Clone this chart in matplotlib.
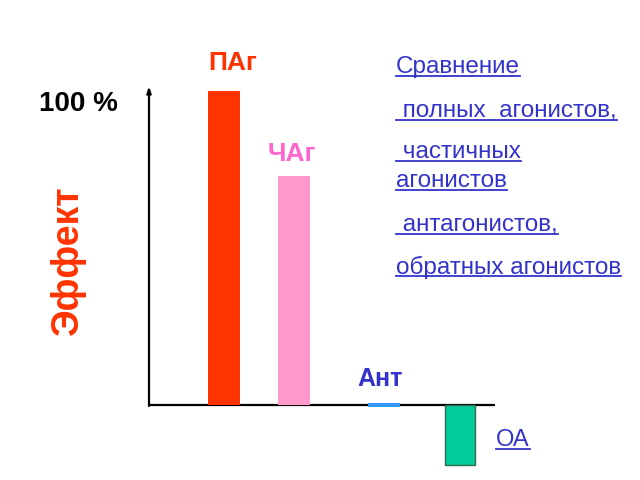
import matplotlib
matplotlib.use("Agg")
import matplotlib.pyplot as plt

plt.rcParams['font.family'] = ['Liberation Sans', 'DejaVu Sans']

RED = '#FF3300'
PINK = '#FF99CC'
PINK_TXT = '#FF66CC'
BLUE = '#3399FF'
GREEN = '#00CC99'
LINK = '#3333CC'

# ── Data ──────────────────────────────────────────────────────────────────────
labels = ['ПАг', 'ЧАг', 'Ант', 'ОА']
effect = [100, 73, 1.3, -19]
bar_colors = [RED, PINK, BLUE, GREEN]
label_colors = [RED, PINK_TXT, LINK, LINK]
x_pos = [75, 144.5, 235, 311]          # bar centres along the baseline
notes = ['Сравнение', ' полных  агонистов,', ' частичных', 'агонистов',
         ' антагонистов,', 'обратных агонистов']
note_y = [67, 111, 152, 181, 225, 267]  # pixel rows from top

W, H = 640, 480
fig = plt.figure(figsize=(6.4, 4.8), dpi=100)

# axes box in pixel terms: x 149..495, y 85..470 (from top)
ax = fig.add_axes([149 / W, (H - 470) / H, (495 - 149) / W, (470 - 85) / H])
ax.set_xlim(0, 346)
ax.set_ylim(-(470 - 405) / 3.14, (405 - 85) / 3.14)
ax.axis('off')

for x, v, c in zip(x_pos, effect, bar_colors):
    if v < 0:
        ax.bar(x, v, width=30, color=c, edgecolor='#2E6B50', lw=1.0, zorder=3)
    elif v < 5:
        ax.bar(x, v, width=32, bottom=-v / 2, color=c, lw=0, zorder=4)
    else:
        ax.bar(x, v, width=32, color=c, lw=0, zorder=3)

# axes lines
ax.plot([0, 346], [0, 0], color='black', lw=1.6, zorder=2, solid_capstyle='butt')
ax.annotate('', xy=(0, 101.5), xytext=(0, -0.3),
            arrowprops=dict(arrowstyle='-|>,head_length=0.35,head_width=0.12',
                            color='black', lw=1.6, shrinkA=0, shrinkB=0))

# bar labels
ax.annotate(labels[0], xy=(x_pos[0], effect[0]), xytext=(6, 20),
            textcoords='offset points', ha='center', va='center',
            fontsize=19, fontweight='bold', color=label_colors[0])
ax.annotate(labels[1], xy=(x_pos[1], effect[1]), xytext=(-1, 16),
            textcoords='offset points', ha='center', va='center',
            fontsize=19, fontweight='bold', color=label_colors[1])
ax.annotate(labels[2], xy=(x_pos[2], 0), xytext=(-3, 19),
            textcoords='offset points', ha='center', va='center',
            fontsize=18, fontweight='bold', color=label_colors[2])
oa = ax.annotate(labels[3], xy=(x_pos[3], effect[3] / 2), xytext=(26, -4),
                 textcoords='offset points', ha='left', va='center',
                 fontsize=17, color=label_colors[3])

fig.text(78 / W, 1 - 104 / H, '100 %', ha='center', va='center',
         fontsize=20, fontweight='bold', color='black')
fig.text(68 / W, 1 - 260 / H, 'Эффект', ha='center', va='center',
         rotation=90, fontsize=27, fontweight='bold', color=RED)

texts = [oa]
for s, y in zip(notes, note_y):
    texts.append(fig.text(396 / W, 1 - y / H, s, ha='left', va='center',
                          fontsize=17.5, color=LINK))

# underline link-style texts
fig.canvas.draw()
r = fig.canvas.get_renderer()
for t in texts:
    bb = t.get_window_extent(renderer=r)
    y = bb.y0 + 2.5
    fig.add_artist(plt.Line2D([bb.x0 / W, bb.x1 / W], [y / H, y / H],
                              color=LINK, lw=1.3))

fig.savefig('out.png', dpi=100)
